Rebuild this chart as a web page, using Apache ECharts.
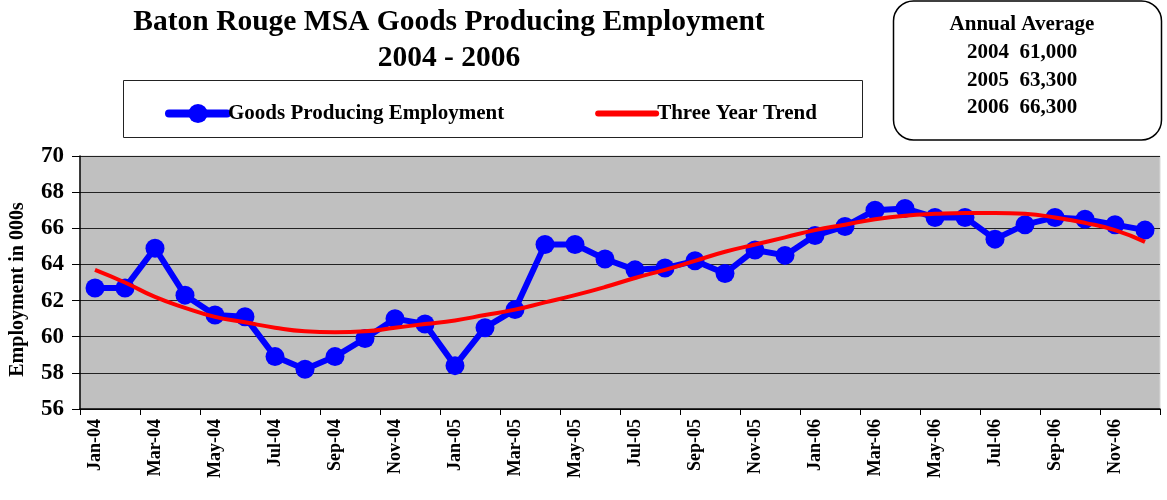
<!DOCTYPE html>
<html><head><meta charset="utf-8">
<script src="https://cdn.jsdelivr.net/npm/echarts@6/dist/echarts.min.js"></script>
<style>html,body{margin:0;padding:0;background:#fff}#c{width:1167px;height:500px}</style>
</head><body><div id="c"></div>
<script>
const months = ["Jan-04","Feb-04","Mar-04","Apr-04","May-04","Jun-04","Jul-04","Aug-04","Sep-04","Oct-04","Nov-04","Dec-04",
"Jan-05","Feb-05","Mar-05","Apr-05","May-05","Jun-05","Jul-05","Aug-05","Sep-05","Oct-05","Nov-05","Dec-05",
"Jan-06","Feb-06","Mar-06","Apr-06","May-06","Jun-06","Jul-06","Aug-06","Sep-06","Oct-06","Nov-06","Dec-06"];
const goodsProducing = [62.7,62.7,64.9,62.3,61.2,61.1,58.9,58.2,58.9,59.9,61.0,60.7,
58.4,60.5,61.5,65.1,65.1,64.3,63.7,63.8,64.2,63.5,64.8,64.5,
65.6,66.1,67.0,67.1,66.6,66.6,65.4,66.2,66.6,66.5,66.2,65.9];
const threeYearTrend = [63.7,63.0,62.2,61.6,61.1,60.8,60.5,60.3,60.25,60.3,60.5,60.7,
60.9,61.2,61.5,61.9,62.3,62.75,63.25,63.7,64.2,64.7,65.1,65.5,
65.9,66.2,66.5,66.7,66.8,66.85,66.85,66.8,66.6,66.3,65.9,65.25];
const annualTitle = "Annual Average";
const annualYears = ["2004","2005","2006"];
const annualValues = ["61,000","63,300","66,300"];
const titleLines = ["Baton Rouge MSA Goods Producing Employment","2004 - 2006"];
const seriesNames = ["Goods Producing Employment","Three Year Trend"];

const serif = '"Liberation Serif","Times New Roman",serif';
const chart = echarts.init(document.getElementById('c'), null, {renderer:'canvas'});
const gfx = [
  {type:'text', style:{text:titleLines[0], font:'bold 29.5px '+serif, fill:'#000', textAlign:'center', textVerticalAlign:'middle', x:449, y:22}},
  {type:'text', style:{text:titleLines[1], font:'bold 29.5px '+serif, fill:'#000', textAlign:'center', textVerticalAlign:'middle', x:449, y:58}},
  {type:'rect', shape:{x:123.5,y:80.5,width:739,height:57}, style:{fill:'#fff', stroke:'#222', lineWidth:1}, z:-1},
  {type:'rect', shape:{x:893.5,y:1,width:268,height:139,r:20}, style:{fill:'#fff', stroke:'#000', lineWidth:1.5}},
  {type:'text', style:{text:annualTitle, font:'bold 21px '+serif, fill:'#000', textAlign:'center', textVerticalAlign:'middle', x:1022, y:25}}
];
annualYears.forEach((y,i)=>{
  gfx.push({type:'text', style:{text:y+'  '+annualValues[i], font:'bold 21px '+serif, fill:'#000', textAlign:'center', textVerticalAlign:'middle', x:1022, y:53+i*27.5}});
});

chart.setOption({
  animation:false,
  backgroundColor:'#fff',
  graphic: gfx,
  legend:{
    left:160, top:98, itemGap:91, itemWidth:58, itemHeight:24,
    textStyle:{fontFamily:serif, fontWeight:'bold', fontSize:21, color:'#000', padding:[0,0,0,-4]},
    data:[
      {name:seriesNames[0], lineStyle:{width:8, cap:'round'}},
      {name:seriesNames[1], lineStyle:{width:6, cap:'round'}, itemStyle:{opacity:0}}
    ]
  },
  grid:{left:80, right:7, top:156, bottom:91, show:true, backgroundColor:'#c0c0c0', borderColor:'#d8d8d8', borderWidth:1},
  xAxis:{
    type:'category', data:months, boundaryGap:true,
    axisLine:{lineStyle:{color:'#000', width:1.5}},
    axisTick:{show:true, length:6, lineStyle:{color:'#000'}},
    axisLabel:{interval:1, rotate:90, fontFamily:serif, fontWeight:'bold', fontSize:18, color:'#000', margin:10},
    splitLine:{show:false}
  },
  yAxis:{
    type:'value', min:56, max:70, interval:2,
    name:'Employment in 000s', nameLocation:'middle', nameGap:52, nameRotate:90,
    nameTextStyle:{fontFamily:serif, fontWeight:'bold', fontSize:20, color:'#000', padding:[0,14,0,0]},
    axisLine:{show:true, lineStyle:{color:'#000', width:1.5}},
    axisTick:{show:true, length:8, lineStyle:{color:'#000'}},
    axisLabel:{fontFamily:serif, fontWeight:'bold', fontSize:23, color:'#000', margin:16},
    splitLine:{show:true, lineStyle:{color:'#222', width:1}}
  },
  series:[
    {name:seriesNames[0], type:'line', data:goodsProducing, color:'#0000ff',
     lineStyle:{width:6, color:'#0000ff'}, symbol:'circle', symbolSize:19,
     itemStyle:{color:'#0000ff'}, z:2},
    {name:seriesNames[1], type:'line', data:threeYearTrend, color:'#ff0000', smooth:0.5,
     lineStyle:{width:4, color:'#ff0000'}, symbol:'none', showSymbol:false, z:3}
  ]
});
</script></body></html>
